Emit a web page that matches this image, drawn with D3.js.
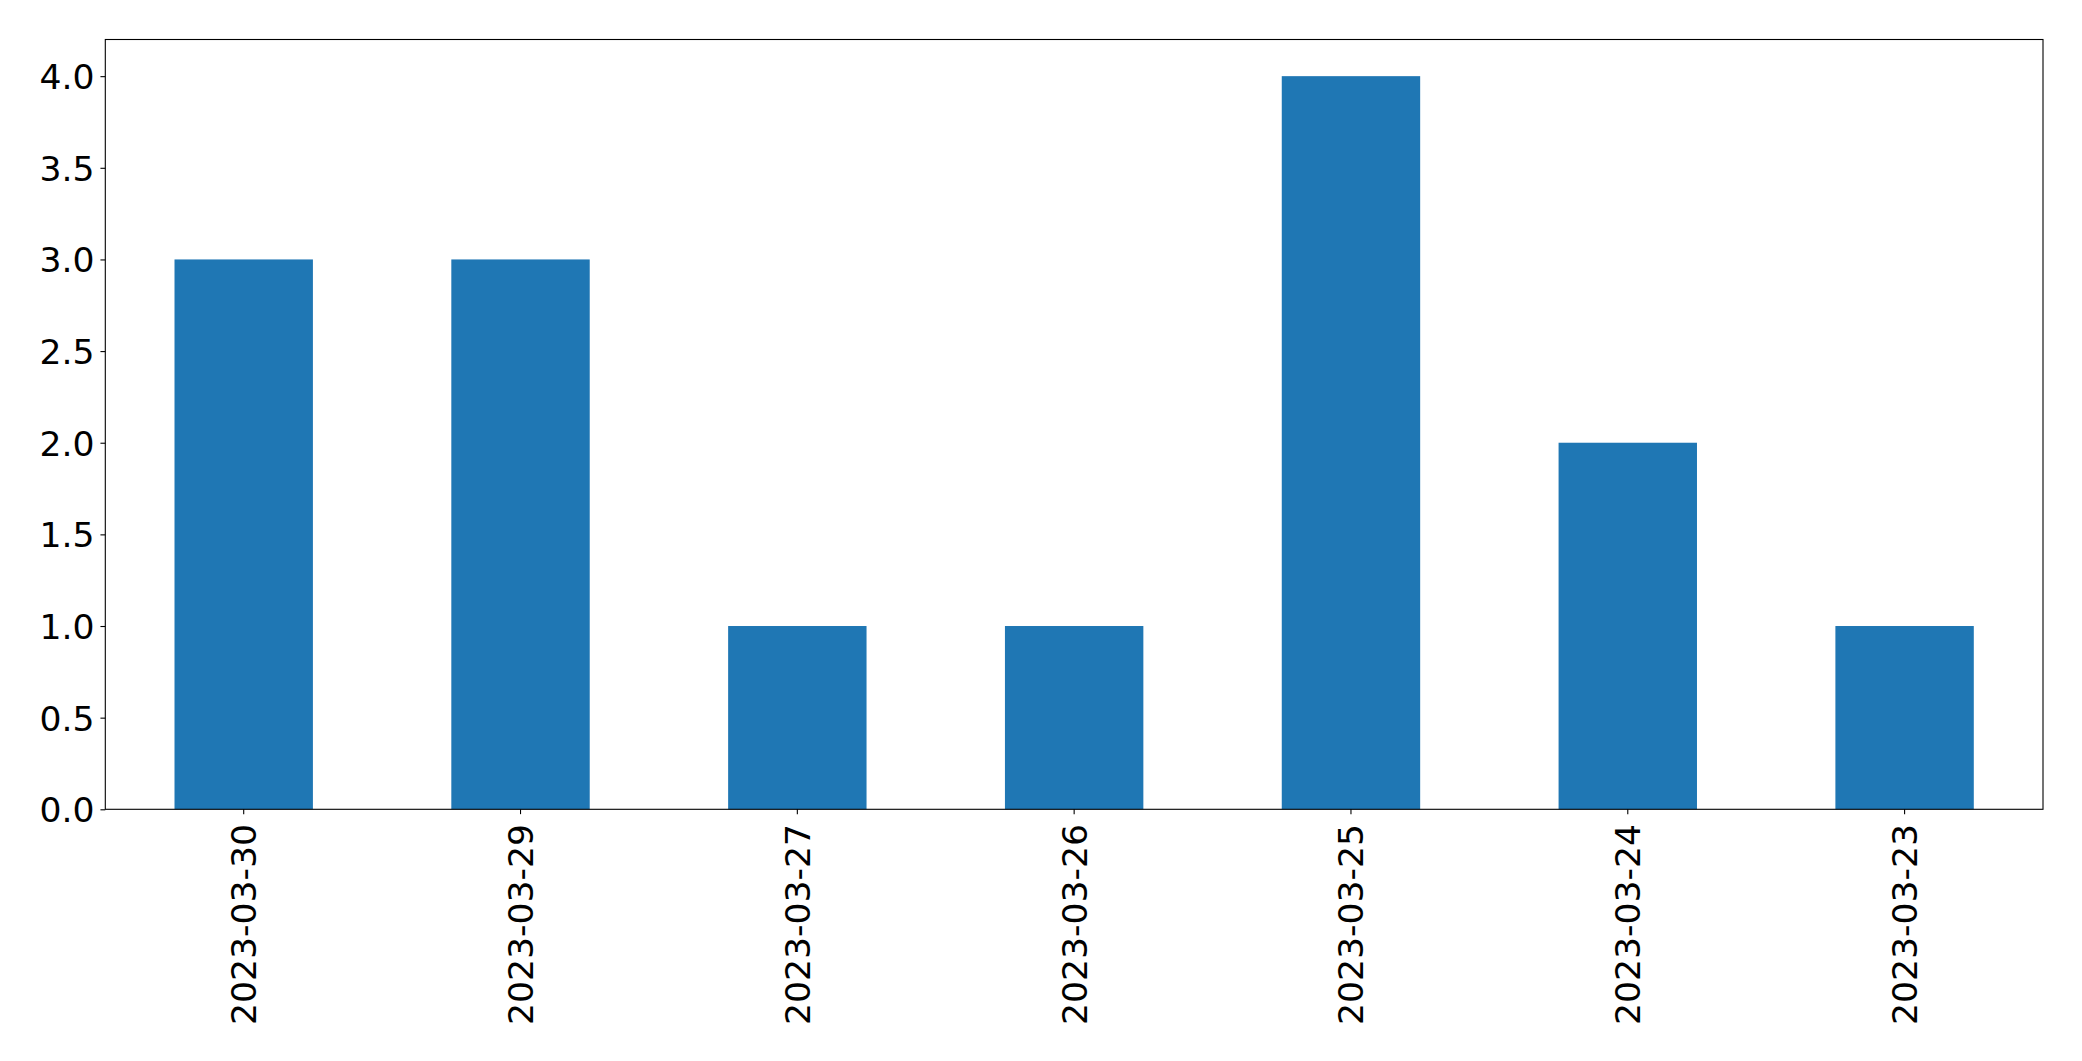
<!DOCTYPE html>
<html>
<head>
<meta charset="utf-8">
<script src="https://cdn.jsdelivr.net/npm/d3@7"></script>
<style>
  html, body { margin: 0; padding: 0; background: #fff; }
  svg { display: block; }
  text { font-family: "DejaVu Sans", sans-serif; fill: #000; }
</style>
</head>
<body>
<svg id="chart" width="2082" height="1061"></svg>
<script>
const categories = ["2023-03-30", "2023-03-29", "2023-03-27", "2023-03-26", "2023-03-25", "2023-03-24", "2023-03-23"];
const values = [3, 3, 1, 1, 4, 2, 1];
const yTicks = [0.0, 0.5, 1.0, 1.5, 2.0, 2.5, 3.0, 3.5, 4.0];

const W = 2082, H = 1061;
const margin = { left: 105.3, right: 2082 - 2043, top: 39.5, bottom: 1061 - 809.3 };
const plotW = W - margin.left - margin.right;
const plotH = H - margin.top - margin.bottom;
const fontSize = 34.6;
const tickLen = 4.86, pad = 4.86;

const svg = d3.select("#chart");
const g = svg.append("g").attr("transform", `translate(${margin.left},${margin.top})`);

const x = d3.scaleBand().domain(categories).range([0, plotW]).paddingInner(0.5).paddingOuter(0.25);
const y = d3.scaleLinear().domain([0, d3.max(values) * 1.05]).range([plotH, 0]);

g.selectAll("rect.bar").data(values).enter().append("rect")
  .attr("class", "bar")
  .attr("x", (d, i) => x(categories[i]))
  .attr("width", x.bandwidth())
  .attr("y", d => y(d))
  .attr("height", d => y(0) - y(d))
  .attr("fill", "#1f77b4");

// spines
g.append("rect").attr("x", 0).attr("y", 0).attr("width", plotW).attr("height", plotH)
  .attr("fill", "none").attr("stroke", "#000").attr("stroke-width", 1.1);

// y axis
const yAxis = d3.axisLeft(y).tickValues(yTicks).tickFormat(d3.format(".1f"))
  .tickSizeInner(tickLen).tickSizeOuter(0).tickPadding(pad + 1);
const ya = g.append("g").call(yAxis);
ya.select(".domain").remove();
ya.selectAll(".tick line").attr("stroke", "#000").attr("stroke-width", 1.1);
ya.selectAll(".tick text").attr("font-size", fontSize).attr("font-family", "DejaVu Sans").attr("fill", "#000").attr("dy", "0.36em");

// x axis
const xAxis = d3.axisBottom(x).tickSizeInner(tickLen).tickSizeOuter(0).tickPadding(pad);
const xa = g.append("g").attr("transform", `translate(0,${plotH})`).call(xAxis);
xa.select(".domain").remove();
xa.selectAll(".tick line").attr("stroke", "#000").attr("stroke-width", 1.1);
xa.selectAll(".tick text")
  .attr("font-size", fontSize).attr("font-family", "DejaVu Sans").attr("fill", "#000")
  .attr("text-anchor", "end")
  .attr("x", 0).attr("y", 0).attr("dy", "0.36em")
  .attr("transform", `translate(0,${tickLen + pad + 5}) rotate(-90)`);
</script>
</body>
</html>
